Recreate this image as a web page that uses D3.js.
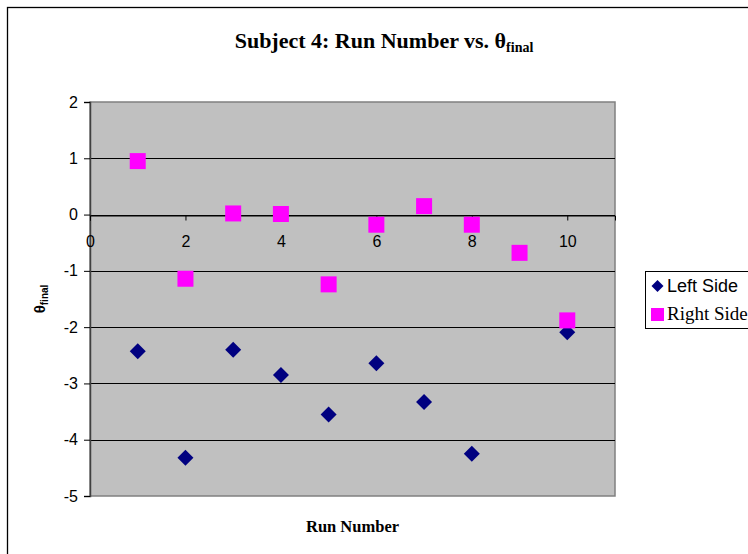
<!DOCTYPE html>
<html>
<head>
<meta charset="utf-8">
<script src="https://cdn.jsdelivr.net/npm/d3@7"></script>
<style>
  html, body { margin: 0; padding: 0; background: #fff; }
  svg { display: block; }
</style>
</head>
<body>
<div id="chart"></div>
<script>
// Run numbers and final angle per side
const runsLeft = [1, 2, 3, 4, 5, 6, 7, 8, 10];
const leftSide = [-2.43, -4.32, -2.40, -2.85, -3.55, -2.64, -3.33, -4.25, -2.09];
const runsRight = [1, 2, 3, 4, 5, 6, 7, 8, 9, 10];
const rightSide = [0.95, -1.14, 0.02, 0.01, -1.24, -0.18, 0.15, -0.18, -0.68, -1.88];
const xTicks = [0, 2, 4, 6, 8, 10];
const yTicks = [2, 1, 0, -1, -2, -3, -4, -5];
const seriesNames = ["Left Side", "Right Side"];

const W = 748, H = 554;
const plot = { left: 90, right: 615, top: 102, bottom: 496 };
const sans = "'Liberation Sans', Arial, sans-serif";
const serif = "'Liberation Serif', 'Times New Roman', serif";
const plainNum = d => String(d);

const svg = d3.select("#chart").append("svg")
  .attr("width", W).attr("height", H);

// chart area frame
svg.append("rect")
  .attr("x", 7.5).attr("y", 7.5)
  .attr("width", W + 20).attr("height", H + 20)
  .attr("fill", "#fff").attr("stroke", "#000").attr("stroke-width", 1.3);

const x = d3.scaleLinear().domain([0, 11]).range([plot.left, plot.right]);
const y = d3.scaleLinear().domain([-5, 2]).range([plot.bottom, plot.top]);

// plot area
svg.append("rect")
  .attr("x", plot.left).attr("y", plot.top)
  .attr("width", plot.right - plot.left).attr("height", plot.bottom - plot.top)
  .attr("fill", "#c0c0c0").attr("stroke", "#808080").attr("stroke-width", 1.5);

// horizontal gridlines
svg.append("g").selectAll("line")
  .data(yTicks.filter(v => v !== 2 && v !== -5))
  .join("line")
  .attr("x1", plot.left).attr("x2", plot.right)
  .attr("y1", d => Math.round(y(d)) + 0.5).attr("y2", d => Math.round(y(d)) + 0.5)
  .attr("stroke", "#000").attr("stroke-width", 1);

// y axis
const yAxis = svg.append("g")
  .attr("transform", `translate(${plot.left},0)`)
  .call(d3.axisLeft(y).tickValues(yTicks).tickSize(6).tickPadding(6).tickFormat(plainNum));
yAxis.select(".domain").attr("stroke", "#404040").attr("stroke-width", 1.5);
yAxis.selectAll(".tick line").attr("stroke", "#000");
yAxis.selectAll(".tick text")
  .attr("font-family", sans).attr("font-size", 16).attr("fill", "#000");

// x axis drawn along zero
const xAxis = svg.append("g")
  .attr("transform", `translate(0,${Math.round(y(0)) + 0.5})`)
  .call(d3.axisBottom(x).tickValues(xTicks).tickSize(5).tickPadding(15).tickFormat(plainNum));
xAxis.select(".domain").attr("stroke", "#000").attr("stroke-width", 1);
xAxis.selectAll(".tick line").attr("stroke", "#000");
xAxis.selectAll(".tick text")
  .attr("font-family", sans).attr("font-size", 16).attr("fill", "#000");

// markers
const diamond = d3.symbol().type(d3.symbolSquare).size(128);
const square = d3.symbol().type(d3.symbolSquare).size(256);

svg.append("g").selectAll("path")
  .data(runsLeft.map((r, i) => [r, leftSide[i]]))
  .join("path")
  .attr("d", diamond)
  .attr("transform", d => `translate(${x(d[0])},${y(d[1])}) rotate(45)`)
  .attr("fill", "#000080");

svg.append("g").selectAll("path")
  .data(runsRight.map((r, i) => [r, rightSide[i]]))
  .join("path")
  .attr("d", square)
  .attr("transform", d => `translate(${x(d[0])},${y(d[1])})`)
  .attr("fill", "#ff00ff");

// title
const title = svg.append("text")
  .attr("x", 384).attr("y", 48)
  .attr("text-anchor", "middle")
  .attr("font-family", serif).attr("font-weight", "bold").attr("font-size", 22)
  .attr("fill", "#000");
title.append("tspan").text("Subject 4: Run Number vs. θ");
title.append("tspan").attr("font-size", 14).attr("dy", 4).text("final");

// axis titles
svg.append("text")
  .attr("x", (plot.left + plot.right) / 2).attr("y", 532)
  .attr("text-anchor", "middle")
  .attr("font-family", serif).attr("font-weight", "bold").attr("font-size", 16.5)
  .text("Run Number");

const yTitle = svg.append("text")
  .attr("transform", `translate(45,${(plot.top + plot.bottom) / 2}) rotate(-90)`)
  .attr("text-anchor", "middle")
  .attr("font-family", sans).attr("font-weight", "bold").attr("font-size", 15);
yTitle.append("tspan").text("θ");
yTitle.append("tspan").attr("font-size", 10).attr("dy", 3).text("final");

// legend
const legend = svg.append("g");
legend.append("rect")
  .attr("x", 645.5).attr("y", 271.5).attr("width", 120).attr("height", 57)
  .attr("fill", "#fff").attr("stroke", "#000").attr("stroke-width", 1);

legend.append("path")
  .attr("d", d3.symbol().type(d3.symbolSquare).size(72))
  .attr("transform", "translate(657.5,286) rotate(45)")
  .attr("fill", "#000080");
legend.append("text")
  .attr("x", 667).attr("y", 292)
  .attr("font-family", sans).attr("font-size", 18)
  .text(seriesNames[0]);

legend.append("rect")
  .attr("x", 651).attr("y", 308).attr("width", 13).attr("height", 13)
  .attr("fill", "#ff00ff");
legend.append("text")
  .attr("x", 667).attr("y", 320)
  .attr("font-family", serif).attr("font-size", 19)
  .text(seriesNames[1]);
</script>
</body>
</html>
